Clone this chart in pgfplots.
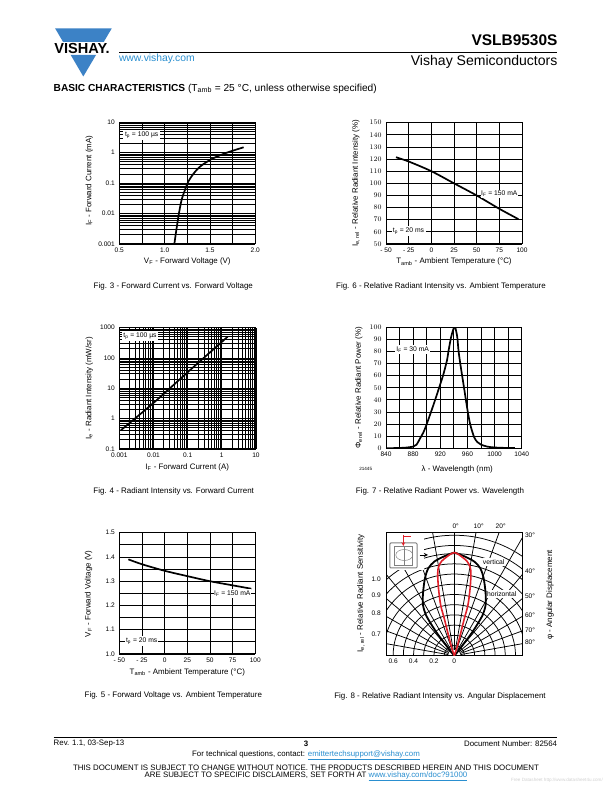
\documentclass[border=0pt]{standalone}
\usepackage{pgfplots}
\usepackage{fontspec}
\setmainfont{Liberation Sans}
\pgfplotsset{compat=1.18}
\definecolor{vblue}{HTML}{3C82C6}
\definecolor{linkblue}{HTML}{2A8FD0}
\definecolor{vred}{HTML}{E0202A}
\newcommand\sub[1]{\textsubscript{#1}}
\newcommand\fs[1]{\fontsize{#1}{#1}\selectfont}
\pgfplotsset{
  vish/.style={scale only axis, anchor=south west,
    axis line style={line width=1bp},
    major tick length=0pt, minor tick length=0pt,
    xmajorgrids, ymajorgrids,
    grid style={black,line width=.8bp},
    major grid style={black,line width=.8bp},
    minor grid style={black,line width=.8bp},
    tick label style={font=\fs{6.6}},
    label style={font=\fs{7.95}},
    yticklabel style={xshift=-1bp},
  },
  curve/.style={black,line width=1.7bp,no marks,smooth},
}
\begin{document}
\begin{tikzpicture}[x=1bp,y=1bp]
\path[use as bounding box,fill=white] (0,0) rectangle (612,792);

% ---------- Fig 3
\begin{axis}[vish, at={(119.3bp,548bp)}, width=136bp, height=121.7bp,
  xmin=0.5, xmax=2, ymode=log, ymin=0.001, ymax=10,
  xtick={0.5,0.75,1,1.25,1.5,1.75,2}, xticklabels={0.5,,1.0,,1.5,,2.0},
  ytick={0.001,0.01,0.1,1,10}, yticklabels={0.001,0.01,0.1,1,10},
  yminorgrids,
  minor ytick={0.002,0.003,0.004,0.005,0.006,0.007,0.008,0.009,0.02,0.03,0.04,0.05,0.06,0.07,0.08,0.09,0.2,0.3,0.4,0.5,0.6,0.7,0.8,0.9,2,3,4,5,6,7,8,9},
  xlabel={V\sub{F} - Forward Voltage (V)},
  ylabel={I\sub{F} - Forward Current (mA)},
  xlabel style={at={(axis description cs:0.5,-0.145)},anchor=center},
  ylabel style={at={(axis description cs:-0.2206,0.52)},anchor=center},
]
\addplot[curve] coordinates {(1.107,0.001)(1.132,0.00327)(1.158,0.0102)(1.187,0.028)(1.224,0.0596)(1.261,0.112)(1.316,0.2)(1.390,0.348)(1.500,0.578)(1.610,0.822)(1.720,1.086)(1.871,1.507)};
\end{axis}

% ---------- Fig 6
\begin{axis}[vish, at={(386bp,548bp)}, width=136bp, height=121.3bp,
  xmin=-50, xmax=100, ymin=50, ymax=150,
  xtick={-50,-25,0,25,50,75,100}, xticklabels={- 50,- 25,0,25,50,75,100},
  ytick={50,60,...,150},
  xlabel={T\sub{amb} - Ambient Temperature (°C)},
  ylabel={I\sub{e, rel} - Relative Radiant Intensity (\%)},
  xlabel style={at={(axis description cs:0.5,-0.146)},anchor=center},
  ylabel style={at={(axis description cs:-0.2206,0.5)},anchor=center},
]
\addplot[curve] coordinates {(-39,121.5)(-25,118)(0,110)(25,100)(50,90)(75,79)(96,70.5)};
\end{axis}

% ---------- Fig 4
\begin{axis}[vish, at={(119.3bp,343bp)}, width=136.7bp, height=121.3bp,
  xmode=log, ymode=log, xmin=0.001, xmax=10, ymin=0.1, ymax=1000,
  xtick={0.001,0.01,0.1,1,10}, xticklabels={0.001,0.01,0.1,1,10},
  ytick={0.1,1,10,100,1000}, yticklabels={0.1,1,10,100,1000},
  xminorgrids, yminorgrids,
  minor xtick={0.002,0.003,0.004,0.005,0.006,0.007,0.008,0.009,0.02,0.03,0.04,0.05,0.06,0.07,0.08,0.09,0.2,0.3,0.4,0.5,0.6,0.7,0.8,0.9,2,3,4,5,6,7,8,9},
  minor ytick={0.2,0.3,0.4,0.5,0.6,0.7,0.8,0.9,2,3,4,5,6,7,8,9,20,30,40,50,60,70,80,90,200,300,400,500,600,700,800,900},
  xlabel={I\sub{F} - Forward Current (A)},
  ylabel={I\sub{e} - Radiant Intensity (mW/sr)},
  xlabel style={at={(axis description cs:0.497,-0.151)},anchor=center},
  ylabel style={at={(axis description cs:-0.2195,0.5)},anchor=center},
]
\addplot[curve] coordinates {(0.00112,0.42)(0.01,3.3)(0.1,34)(1,340)(1.48,504)};
\end{axis}

% ---------- Fig 7
\begin{axis}[vish, at={(386bp,343.7bp)}, width=135.7bp, height=121bp,
  xmin=840, xmax=1040, ymin=0, ymax=100,
  xtick={840,860,...,1040}, xticklabels={840,,880,,920,,960,,1000,,1040},
  ytick={0,10,...,100},
  xlabel={λ - Wavelength (nm)},
  ylabel={Φ\sub{e rel} - Relative Radiant Power (\%)},
  xlabel style={at={(axis description cs:0.525,-0.177)},anchor=center},
  ylabel style={at={(axis description cs:-0.201,0.498)},anchor=center},
]
\addplot[curve] coordinates {(840,0)(860,0.3)(870,0.6)(880,1.4)(885,3)(890,8)(895,13)(900,20)(910,36)(920,53)(925,62)(930,73)(932,80)(936,92)(940,99.5)(942,100)(945,92)(947,80)(950,68)(955,50)(960,32)(964,20)(970,9)(975,5)(980,3)(990,1.3)(1000,0.7)(1010,0.4)(1030,0.2)};
\end{axis}

% ---------- Fig 5
\begin{axis}[vish, at={(119.3bp,138bp)}, width=136bp, height=121.3bp,
  xmin=-50, xmax=100, ymin=1.0, ymax=1.5,
  xtick={-50,-25,0,25,50,75,100}, xticklabels={- 50,- 25,0,25,50,75,100},
  ytick={1,1.05,1.1,1.15,1.2,1.25,1.3,1.35,1.4,1.45,1.5},
  yticklabels={1.0,,1.1,,1.2,,1.3,,1.4,,1.5},
  xlabel={T\sub{amb} - Ambient Temperature (°C)},
  ylabel={V\sub{F} - Forward Voltage (V)},
  xlabel style={at={(axis description cs:0.5,-0.151)},anchor=center},
  ylabel style={at={(axis description cs:-0.225,0.497)},anchor=center},
]
\addplot[curve] coordinates {(-40,1.39)(-25,1.37)(0,1.343)(25,1.321)(50,1.30)(75,1.283)(95.6,1.269)};
\end{axis}

% ---------- Fig 8
\begin{axis}[vish, at={(386.7bp,136.3bp)}, width=135.6bp, height=123.4bp,
  xmin=-0.663, xmax=0.667, ymin=0, ymax=1.209,
  xmajorgrids=false, ymajorgrids=false,
  xtick={-0.6,-0.4,-0.2,0}, xticklabels={0.6,0.4,0.2,0},
  ytick={0.212,0.412,0.592,0.752}, yticklabels={0.7,0.8,0.9,1.0},
  yticklabel style={xshift=-1.5bp},
  ylabel={I\sub{e, rel} - Relative Radiant Sensitivity},
  ylabel style={at={(axis description cs:-0.19,0.506)},anchor=center},
]
\pgfplotsinvokeforeach{0.1,0.2,0.3,0.4,0.5,0.6,0.7,0.8,0.9,1.0,1.08,1.18}{
  \draw[black,line width=.75bp] (axis cs:0,0) circle [radius=#1];
}
\pgfplotsinvokeforeach{-80,-70,-60,-50,-40,-30,-20,-10,0,10,20,30,40,50,60,70,80}{
  \draw[black,line width=.75bp] (axis cs:{0.06*sin(#1)},{0.06*cos(#1)}) -- (axis cs:{1.5*sin(#1)},{1.5*cos(#1)});
}
\addplot[black,line width=1.8bp,no marks,smooth] coordinates {(0,0)(-0.033,0.039)(-0.082,0.105)(-0.157,0.203)(-0.222,0.301)(-0.278,0.399)(-0.307,0.497)(-0.307,0.611)(-0.288,0.758)(-0.255,0.856)(-0.196,0.922)(-0.105,0.971)(-0.049,0.993)(0,1.01)(0.049,0.993)(0.105,0.971)(0.196,0.922)(0.255,0.856)(0.288,0.758)(0.307,0.611)(0.307,0.497)(0.278,0.399)(0.222,0.301)(0.157,0.203)(0.082,0.105)(0.033,0.039)(0,0)};
\addplot[vred,line width=1.6bp,no marks,smooth] coordinates {(0,0)(-0.02,0.06)(-0.05,0.17)(-0.075,0.27)(-0.10,0.37)(-0.134,0.497)(-0.155,0.66)(-0.163,0.80)(-0.155,0.87)(-0.125,0.925)(-0.085,0.96)(-0.04,0.993)(0,1.01)(0.04,0.993)(0.085,0.96)(0.125,0.925)(0.155,0.87)(0.163,0.80)(0.155,0.66)(0.134,0.497)(0.10,0.37)(0.075,0.27)(0.05,0.17)(0.02,0.06)(0,0)};
\end{axis}

% Fig 8 inset
\fill[white] (387.2,792-532.8) rectangle (424,792-570);
\draw[gray,line width=1bp,rounded corners=1bp] (389.8,792-543) rectangle (417,792-568);
\draw[gray,line width=.5bp] (394,792-546) rectangle (412.5,792-565);
\draw[gray,line width=.5bp] (404,792-546) -- (404,792-565);
\draw[gray,line width=.5bp] (404.3,792-555) ellipse [x radius=8.5,y radius=5.5];
\draw[vred,line width=.7bp,-stealth] (403.3,792-535) -- (403.3,792-546);
\draw[vred,line width=.6bp] (404,792-536.5) -- (411,792-536.5);
\draw[black,line width=.9bp,-stealth] (419.5,792-555) -- (428,792-555);

% value boxes
\tikzset{vbox/.style={fill=white,inner xsep=0pt,inner ysep=1.5pt,font=\fs{6.8},align=center}}
\node[vbox,minimum width=36.5bp] at (141.7,792-135) {t\sub{p} = 100 µs};
\node[vbox,minimum width=36.5bp] at (499.3,792-194) {I\sub{F} = 150 mA};
\node[vbox,minimum width=34bp] at (408.5,792-230.7) {t\sub{p} = 20 ms};
\node[vbox,minimum width=36.5bp] at (140,792-335.7) {t\sub{p} = 100 µs};
\node[vbox,minimum width=35.5bp] at (412.7,792-349.7) {I\sub{F} = 30 mA};
\node[vbox,minimum width=36.5bp] at (232.3,792-593.7) {I\sub{F} = 150 mA};
\node[vbox,minimum width=33.5bp] at (141.7,792-640.7) {t\sub{p} = 20 ms};
\node[font=\fs{4.6}] at (365.7,792-469.3) {21445};
\node[vbox,minimum width=21bp] at (493.7,792-561.7) {vertical};
\node[vbox,minimum width=29bp] at (501.7,792-593.7) {horizontal};

% Fig 8 angle labels
\foreach \t/\x/\y in {0°/455.7/526,10°/478.7/526,20°/500.7/526,30°/530/535,40°/530/571,50°/530/596.3,60°/530/615,70°/530/630,80°/530/642}{
  \node[font=\fs{6.6}] at (\x,792-\y) {\t};
}
\node[font=\fs{7.95},rotate=90] at (550,792-595) {φ - Angular Displacement};

% captions
\tikzset{capt/.style={font=\fs{8},inner sep=0pt}}
\node[capt] at (173.3,792-286) {Fig. 3 - Forward Current vs. Forward Voltage};
\node[capt] at (441,792-286) {Fig. 6 - Relative Radiant Intensity vs. Ambient Temperature};
\node[capt] at (173.7,792-491) {Fig. 4 - Radiant Intensity vs. Forward Current};
\node[capt] at (440,792-491) {Fig. 7 - Relative Radiant Power vs. Wavelength};
\node[capt] at (173.3,792-695.7) {Fig. 5 - Forward Voltage vs. Ambient Temperature};
\node[capt] at (440,792-696) {Fig. 8 - Relative Radiant Intensity vs. Angular Displacement};

% header
\begin{scope}
\clip (50,792-28) rectangle (116,792-42) (50,792-54.8) rectangle (116,792-80);
\fill[vblue] (55.2,792-28.5) -- (111.7,792-28.5) -- (83.3,792-76.5) -- cycle;
\end{scope}
\node[font=\bfseries\fs{14.6},inner sep=0pt] at (82,792-48.2) {VISHAY.};
\draw[black,line width=.8bp] (119.4,792-52.8) -- (557.3,792-52.8);
\node[font=\bfseries\fs{15.5},anchor=east,inner sep=0pt] at (557.6,792-40.3) {VSLB9530S};
\node[font=\fs{14.1},anchor=east,inner sep=0pt] at (557.6,792-62.3) {Vishay Semiconductors};
\node[font=\fs{10.4},anchor=west,inner sep=0pt,text=linkblue] at (118.8,792-58.9) {www.vishay.com};
\node[font=\fs{10.2},anchor=west,inner sep=0pt] at (53.5,792-88.6) {\textbf{BASIC CHARACTERISTICS} (T\sub{amb} = 25 °C, unless otherwise specified)};

% footer
\draw[black,line width=.8bp] (53.5,792-737.4) -- (557.3,792-737.4);
\tikzset{foot/.style={font=\fs{7.9},inner sep=0pt}}
\node[foot,anchor=west] at (53.5,792-743.5) {Rev. 1.1, 03-Sep-13};
\node[foot,font=\bfseries\fs{7.9}] at (306,792-744.2) {3};
\node[foot,anchor=east] at (557.3,792-743.5) {Document Number: 82564};
\node[foot] at (306,792-755.4) {For technical questions, contact: \textcolor{linkblue}{\underline{emittertechsupport@vishay.com}}};
\node[foot] at (306,792-767.5) {THIS DOCUMENT IS SUBJECT TO CHANGE WITHOUT NOTICE. THE PRODUCTS DESCRIBED HEREIN AND THIS DOCUMENT};
\node[foot] at (306,792-776) {ARE SUBJECT TO SPECIFIC DISCLAIMERS, SET FORTH AT \textcolor{linkblue}{\underline{www.vishay.com/doc?91000}}};
\node[font=\fs{4.6},inner sep=0pt,anchor=east,text=black!18] at (603,792-780) {Free Datasheet http://www.datasheet4u.com/};
\end{tikzpicture}
\end{document}
